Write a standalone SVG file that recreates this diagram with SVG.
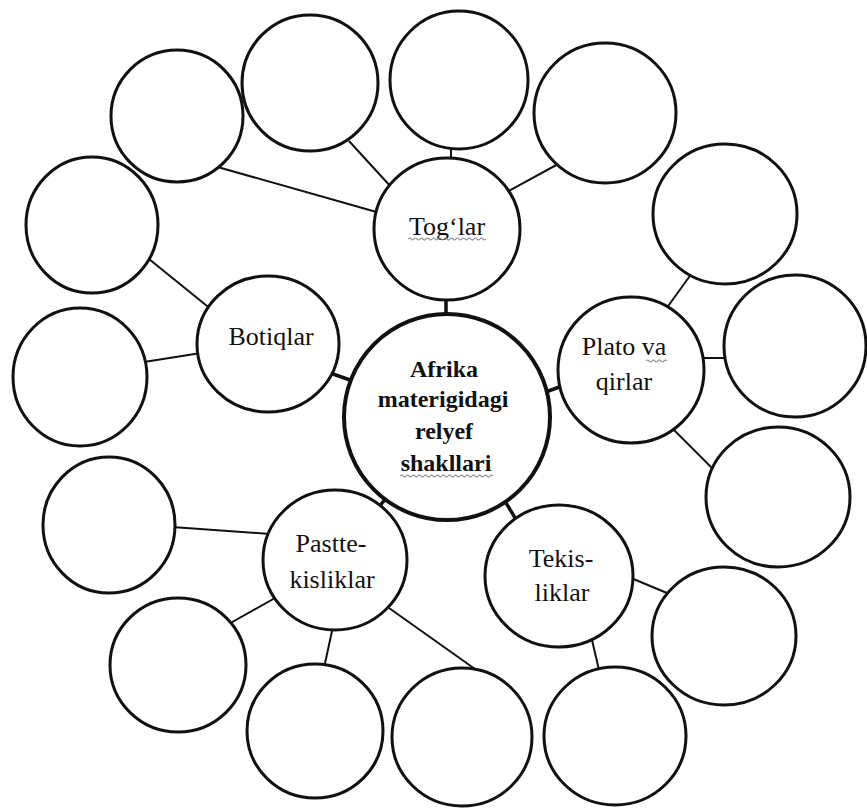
<svg xmlns="http://www.w3.org/2000/svg" width="867" height="809" viewBox="0 0 867 809">
  <style>
    .bubble { fill: #ffffff; stroke: #111111; stroke-width: 3; }
    .hub { fill: #ffffff; stroke: #111111; stroke-width: 4; }
    .link { stroke: #111111; stroke-width: 2; fill: none; }
    .hublink { stroke: #111111; stroke-width: 3.5; fill: none; }
    .label { font-family: "Liberation Serif", "Times New Roman", serif; font-size: 26px; fill: #111111; text-anchor: middle; }
    .title { font-family: "Liberation Serif", "Times New Roman", serif; font-size: 24px; font-weight: bold; fill: #111111; text-anchor: middle; }
    .squiggle { stroke: #8a8a8a; stroke-width: 1.2; fill: none; }
  </style>
  <rect width="867" height="809" fill="#ffffff"/>

  <!-- connectors (drawn first; filled circles cover the ends) -->
  <g id="connectors">
    <!-- hub to the five category bubbles -->
    <line class="hublink" x1="446" y1="296" x2="446" y2="318"/>
    <line class="hublink" x1="333" y1="374" x2="350" y2="380"/>
    <line class="hublink" x1="543" y1="393" x2="562" y2="386"/>
    <line class="hublink" x1="374" y1="512" x2="392" y2="492"/>
    <line class="hublink" x1="503" y1="498" x2="517" y2="521"/>
    <!-- Tog'lar branches -->
    <line class="link" x1="214" y1="166" x2="380" y2="213"/>
    <line class="link" x1="349" y1="141" x2="392" y2="188"/>
    <line class="link" x1="451" y1="145" x2="451" y2="163"/>
    <line class="link" x1="560" y1="163" x2="505" y2="193"/>
    <!-- Plato va qirlar branches -->
    <line class="link" x1="692" y1="273" x2="666" y2="309"/>
    <line class="link" x1="701" y1="358" x2="727" y2="358"/>
    <line class="link" x1="673" y1="429" x2="715" y2="471"/>
    <!-- Botiqlar branches -->
    <line class="link" x1="144" y1="255" x2="212" y2="310"/>
    <line class="link" x1="144" y1="362" x2="201" y2="353"/>
    <!-- Pastte-kisliklar branches -->
    <line class="link" x1="172" y1="527" x2="270" y2="534"/>
    <line class="link" x1="227" y1="625" x2="275" y2="598"/>
    <line class="link" x1="324" y1="668" x2="332" y2="631"/>
    <line class="link" x1="389" y1="608" x2="482" y2="674"/>
    <!-- Tekisliklar branches -->
    <line class="link" x1="631" y1="578" x2="667" y2="593"/>
    <line class="link" x1="592" y1="640" x2="599" y2="670"/>
  </g>

  <!-- central hub -->
  <g id="hub">
    <circle class="hub" cx="447" cy="417" r="103"/>
    <text class="title" x="444" y="377">Afrika</text>
    <text class="title" x="443" y="407">materigidagi</text>
    <text class="title" x="444" y="439">relyef</text>
    <text class="title" x="446" y="471">shakllari</text>
    <path class="squiggle" d="M400 476 q1.5 -2 3 0 t3 0 t3 0 t3 0 t3 0 t3 0 t3 0 t3 0 t3 0 t3 0 t3 0 t3 0 t3 0 t3 0 t3 0 t3 0 t3 0 t3 0 t3 0 t3 0 t3 0 t3 0 t3 0 t3 0 t3 0 t3 0 t3 0 t3 0 t3 0 t3 0 t3 0"/>
  </g>

  <!-- category bubbles -->
  <g id="toglar">
    <ellipse class="bubble" cx="447" cy="229" rx="73" ry="71"/>
    <text class="label" x="447" y="235">Tog‘lar</text>
    <path class="squiggle" d="M408 239 q1.5 -2 3 0 t3 0 t3 0 t3 0 t3 0 t3 0 t3 0 t3 0 t3 0 t3 0 t3 0 t3 0 t3 0 t3 0 t3 0 t3 0 t3 0 t3 0 t3 0 t3 0 t3 0 t3 0 t3 0 t3 0 t3 0 t3 0"/>
  </g>
  <g id="botiqlar">
    <ellipse class="bubble" cx="268" cy="344" rx="71" ry="68"/>
    <text class="label" x="271" y="345">Botiqlar</text>
  </g>
  <g id="plato">
    <circle class="bubble" cx="631" cy="370" r="73"/>
    <text class="label" x="624" y="355">Plato va</text>
    <text class="label" x="624" y="390">qirlar</text>
    <path class="squiggle" d="M646 361 q1.5 -2 3 0 t3 0 t3 0 t3 0 t3 0 t3 0 t3 0"/>
  </g>
  <g id="pasttekisliklar">
    <ellipse class="bubble" cx="335" cy="560" rx="72" ry="70"/>
    <text class="label" x="331" y="552">Pastte-</text>
    <text class="label" x="332" y="588">kisliklar</text>
  </g>
  <g id="tekisliklar">
    <ellipse class="bubble" cx="559" cy="576" rx="74" ry="71"/>
    <text class="label" x="561" y="567">Tekis-</text>
    <text class="label" x="562" y="601">liklar</text>
  </g>

  <!-- empty answer bubbles -->
  <g id="toglar-1"><circle class="bubble" cx="177" cy="116" r="66"/></g>
  <g id="toglar-2"><circle class="bubble" cx="310" cy="83" r="68"/></g>
  <g id="toglar-3"><circle class="bubble" cx="459" cy="80" r="69"/></g>
  <g id="toglar-4"><ellipse class="bubble" cx="605" cy="113" rx="71" ry="70"/></g>
  <g id="plato-1"><ellipse class="bubble" cx="725" cy="214" rx="72" ry="70"/></g>
  <g id="plato-2"><ellipse class="bubble" cx="795" cy="346" rx="71" ry="71"/></g>
  <g id="plato-3"><ellipse class="bubble" cx="778" cy="497" rx="72" ry="70"/></g>
  <g id="tekis-1"><ellipse class="bubble" cx="724" cy="636" rx="72" ry="69"/></g>
  <g id="tekis-2"><ellipse class="bubble" cx="615" cy="736" rx="71" ry="69"/></g>
  <g id="pastte-1"><ellipse class="bubble" cx="462" cy="737" rx="70" ry="69"/></g>
  <g id="pastte-2"><ellipse class="bubble" cx="315" cy="731" rx="68" ry="67"/></g>
  <g id="pastte-3"><ellipse class="bubble" cx="178" cy="665" rx="68" ry="67"/></g>
  <g id="pastte-4"><ellipse class="bubble" cx="109" cy="525" rx="66" ry="68"/></g>
  <g id="botiq-1"><ellipse class="bubble" cx="80" cy="377" rx="67" ry="69"/></g>
  <g id="botiq-2"><ellipse class="bubble" cx="92" cy="225" rx="66" ry="68"/></g>
</svg>
